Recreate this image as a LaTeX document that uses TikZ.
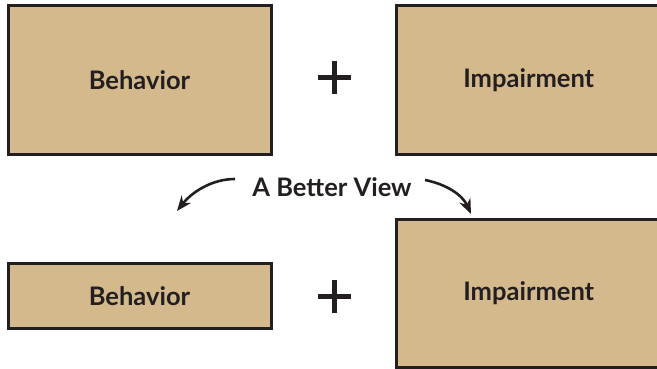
\documentclass[tikz,border=0pt]{standalone}
\usepackage{fontspec}
\setmainfont{Lato}
\usetikzlibrary{arrows.meta}
\definecolor{tan}{RGB}{212,185,140}
\definecolor{ink}{RGB}{35,31,32}
\tikzset{
  box/.style={draw=ink, fill=tan, line width=3pt, inner sep=0pt, font=\bfseries\fontsize{25.5}{30}\selectfont, text=ink},
  plussign/.style={minimum size=33pt, inner sep=0pt, path picture={
      \draw[ink, line width=5pt] (path picture bounding box.north) -- (path picture bounding box.south);
      \draw[ink, line width=5pt] (path picture bounding box.west) -- (path picture bounding box.east);}},
  curvearrow/.style={draw=ink, line width=2.6pt, -{Stealth[length=15pt,width=12pt]}},
}
\begin{document}
\begin{tikzpicture}[x=1pt,y=-1pt]
\useasboundingbox (0,0) rectangle (657,369);
\clip (0,0) rectangle (657,369);
\node[box, minimum width=263pt, minimum height=148.5pt] (b1) at (139.5,80.25) {Behavior};
\node[box, minimum width=264.5pt, minimum height=148.5pt] (i1) at (528.75,80.25) {Impairment};
\node[box, minimum width=263pt, minimum height=65pt] (b2) at (139.5,296) {Behavior};
\node[box, minimum width=264.5pt, minimum height=148pt] (i2) at (528.75,293.5) {Impairment};
\node[plussign] (p1) at (334.5,77.5) {};
\node[plussign] (p2) at (334.5,296.5) {};
\node[font=\bfseries\fontsize{25.5}{30}\selectfont, text=ink] (view) at (332,187) {A Better View};
\coordinate (ls) at (235,179);
\coordinate (lt) at (177,211);
\coordinate (rs) at (425,180);
\coordinate (rt) at (471,214);
\draw[curvearrow] (ls) .. controls (212,179) and (192,192) .. (lt);
\draw[curvearrow] (rs) .. controls (445,184) and (462,194) .. (rt);
\end{tikzpicture}
\end{document}
